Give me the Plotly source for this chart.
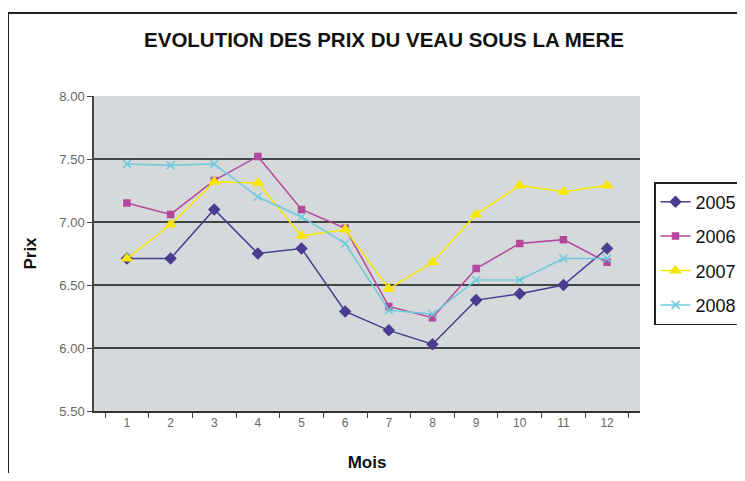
import plotly.graph_objects as go

mois = ["1", "2", "3", "4", "5", "6", "7", "8", "9", "10", "11", "12"]
prix_2005 = [6.71, 6.71, 7.10, 6.75, 6.79, 6.29, 6.14, 6.03, 6.38, 6.43, 6.50, 6.79]
prix_2006 = [7.15, 7.06, 7.33, 7.52, 7.10, 6.95, 6.33, 6.24, 6.63, 6.83, 6.86, 6.68]
prix_2007 = [6.71, 6.98, 7.32, 7.31, 6.89, 6.94, 6.47, 6.68, 7.06, 7.29, 7.24, 7.29]
prix_2008 = [7.46, 7.45, 7.46, 7.20, 7.04, 6.83, 6.30, 6.27, 6.54, 6.54, 6.71, 6.71]
grid_vals = [6.0, 6.5, 7.0, 7.5]

series = [
    ("2005", prix_2005, "#4a3d8f", "diamond", 8),
    ("2006", prix_2006, "#b4489b", "square", 6),
    ("2007", prix_2007, "#f7e600", "triangle-up", 9),
    ("2008", prix_2008, "#6ccbdc", "x-thin", 8),
]

fig = go.Figure()
for name, vals, color, sym, size in series:
    fig.add_trace(go.Scatter(
        x=mois, y=vals, name=name, mode="lines+markers", legendgroup=name,
        line=dict(color=color, width=1.5),
        marker=dict(symbol=sym, size=size, color=color,
                    line=dict(color=color, width=1.5)),
    ))

# page has an 8px body margin around the figure
OFF = 8
W, H = 745 - 2 * OFF, 481 - 2 * OFF
L, R, T, B = 94 - OFF, W - (640 - OFF), 96 - OFF, H - (411 - OFF)
pw, ph = W - L - R, H - T - B

def px(x):
    return (x - OFF - L) / pw

def py(y):
    return 1 - (y - OFF - T) / ph

for g in grid_vals:
    fig.add_shape(type="line", xref="paper", yref="y", x0=0, x1=1, y0=g, y1=g,
                  line=dict(color="#111", width=1.6), layer="below")

fig.update_layout(
    width=W, height=H,
    margin=dict(l=L, r=R, t=T, b=B, autoexpand=False),
    paper_bgcolor="white",
    plot_bgcolor="#d5d9dc",
    title=dict(text="<b>EVOLUTION DES PRIX DU VEAU SOUS LA MERE</b>",
               xref="container", x=(384 - OFF) / W, xanchor="center",
               y=1 - (40 - OFF) / H, yanchor="middle",
               font=dict(family="Liberation Sans, Arial", size=20.5, color="#111")),
    font=dict(family="Liberation Sans, Arial", color="#111"),
    showlegend=True,
    legend=dict(x=px(654), xanchor="left", y=py(182), yanchor="top",
                bgcolor="white", bordercolor="#222", borderwidth=1.5,
                font=dict(family="Liberation Sans, Arial", size=18, color="#111"),
                tracegroupgap=8, itemwidth=30, entrywidth=120),
    xaxis=dict(
        type="category", tickson="boundaries", ticks="outside", ticklen=5,
        tickcolor="#444", showgrid=False, showline=True, linecolor="#333", linewidth=1.5,
        tickfont=dict(family="Liberation Sans, Arial", size=12, color="#666"),
        title=dict(text="<b>Mois</b>", font=dict(size=17, color="#111"), standoff=27),
    ),
    yaxis=dict(
        range=[5.5, 8.0], dtick=0.5, tick0=5.5, tickformat=".2f",
        ticks="outside", ticklen=5, tickcolor="#444",
        showgrid=False,
        showline=True, linecolor="#444", linewidth=1.5,
        tickfont=dict(family="Liberation Sans, Arial", size=13, color="#666"),
        title=dict(text="<b>Prix</b>", font=dict(size=17, color="#111"), standoff=18),
        zeroline=False,
    ),
)

# outer frame of the original figure (cut off on the right and bottom)
fig.add_shape(type="line", xref="paper", yref="paper",
              x0=px(8), x1=px(760), y0=py(13), y1=py(13),
              line=dict(color="#222", width=2))
fig.add_shape(type="line", xref="paper", yref="paper",
              x0=px(8), x1=px(8), y0=py(13), y1=py(495),
              line=dict(color="#222", width=2))

fig.write_html("out.html")
